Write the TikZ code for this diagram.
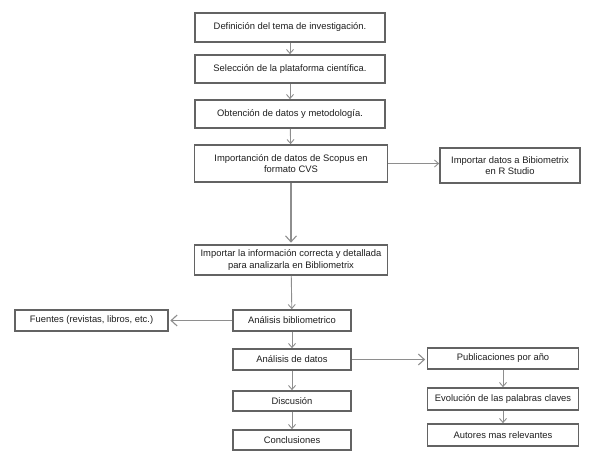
\documentclass[tikz,border=0pt]{standalone}
\usepackage{fontspec}
\setmainfont{Liberation Sans}
\usetikzlibrary{arrows.meta}

\definecolor{boxgray}{HTML}{636363}
\definecolor{arrgray}{HTML}{8E8E8E}
\definecolor{txtgray}{HTML}{1E1E1E}

\begin{document}
\begin{tikzpicture}
		[x=1pt,y=-1pt,
		every node/.style={font=\fontsize{9.4}{11.5}\selectfont,text=txtgray,align=center,inner sep=0pt},
		stepbox/.style={draw=boxgray,line width=1.7pt,fill=white},
		flow/.style={draw=arrgray,line width=0.9pt,-{Straight Barb[length=4pt,width=7pt]}},
		bigflow/.style={draw=arrgray,line width=1.1pt,shorten >=1.5pt,-{Straight Barb[length=6pt,width=11pt]}}]
		\useasboundingbox (0,0) rectangle (589,463);
		% main column
		\node[stepbox,minimum width=190pt,minimum height=29pt] (tema) at (290,27.5) {Definición del tema de investigación.};
		\node[stepbox,minimum width=190pt,minimum height=28pt] (plat) at (290,69) {Selección de la plataforma científica.};
		\node[stepbox,minimum width=190pt,minimum height=28pt] (obt) at (290,114) {Obtención de datos y metodología.};
		\node[stepbox,minimum width=193pt,minimum height=37pt] (imp) at (291,163.5) {Importanción de datos de Scopus en\\formato CVS};
		\node[stepbox,minimum width=140pt,minimum height=35pt] (rstudio) at (510,165.5) {Importar datos a Bibiometrix\\en R Studio};
		\node[stepbox,minimum width=193pt,minimum height=30pt] (info) at (291,260) {Importar la información correcta y detallada\\para analizarla en Bibliometrix};
		\node[stepbox,minimum width=118pt,minimum height=21pt] (biblio) at (292,320.5) {Análisis bibliometrico};
		\node[stepbox,minimum width=153pt,minimum height=21pt] (fuentes) at (91.5,320.5) {Fuentes (revistas, libros, etc.)};
		\node[stepbox,minimum width=118pt,minimum height=21pt] (datos) at (292,359.5) {Análisis de datos};
		\node[stepbox,minimum width=118pt,minimum height=20pt] (disc) at (292,401) {Discusión};
		\node[stepbox,minimum width=118pt,minimum height=20pt] (concl) at (292,440) {Conclusiones};
		% right column
		\node[stepbox,minimum width=151pt,minimum height=21pt] (pub) at (503,358.5) {Publicaciones por año};
		\node[stepbox,minimum width=151pt,minimum height=22pt] (evol) at (503,399) {Evolución de las palabras claves};
		\node[stepbox,minimum width=151pt,minimum height=22pt] (autores) at (503,435) {Autores mas relevantes};
		% connectors
		\draw[flow] (tema) -- (plat);
		\draw[flow] (plat) -- (obt);
		\draw[flow] (obt) -- (imp);
		\draw[flow] (imp.east) -- (imp.east -| rstudio.west);
		\draw[bigflow] (imp) -- (info);
		\draw[flow] (info) -- (biblio);
		\draw[bigflow] (biblio) -- (fuentes);
		\draw[flow] (biblio) -- (datos);
		\draw[bigflow] (datos.east) -- (datos.east -| pub.west);
		\draw[flow] (datos) -- (disc);
		\draw[flow] (disc) -- (concl);
		\draw[flow] (pub) -- (evol);
		\draw[flow] (evol) -- (autores);
\end{tikzpicture}
\end{document}
